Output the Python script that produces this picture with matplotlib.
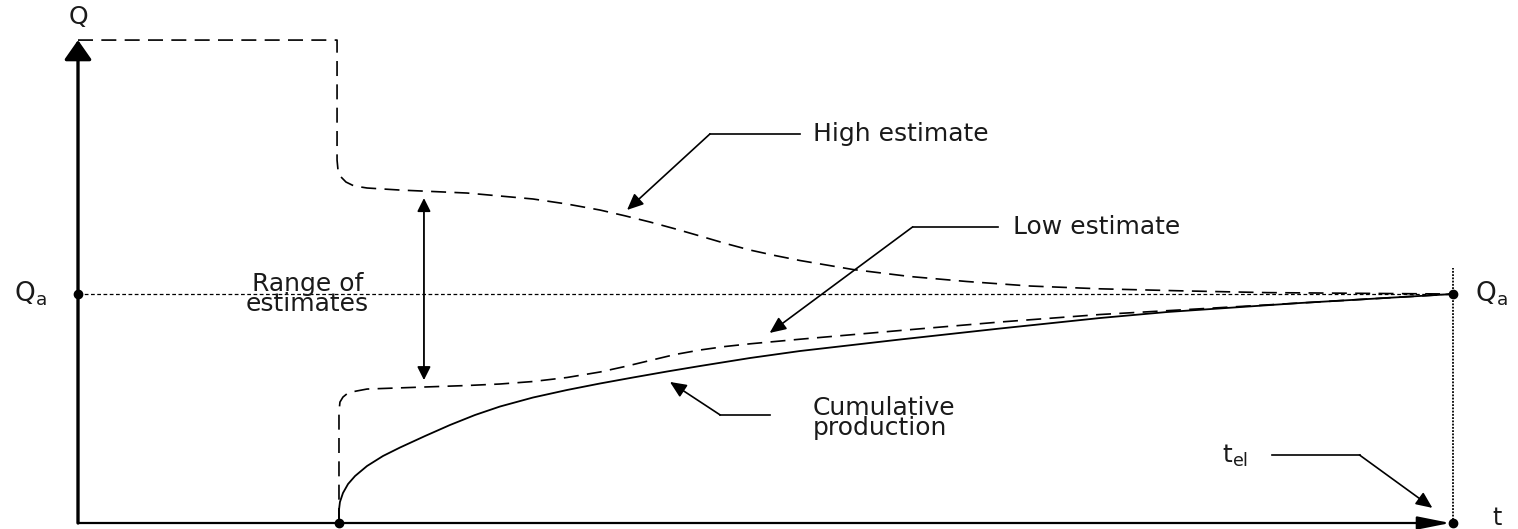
import matplotlib
matplotlib.use("Agg")
import matplotlib.pyplot as plt

# ---- data (t: time, t_el = 100 ; Q: cumulative volume, Q_a = 100) ----
t_el = 100.0
Q_a = 100.0
t_start = 18.98
Q_max = 210.9

high_t = [0.0, 18.84, 18.84, 18.91, 19.13, 19.49, 20.07, 21.02, 23.42, 28.29, 33.09,
          35.56, 37.96, 39.78, 41.6, 43.42, 45.24, 47.05, 48.87, 50.69, 52.51, 56.36,
          60.51, 64.65, 69.24, 74.33, 80.15, 86.47, 100.0]
high_q = [210.9, 210.9, 158.5, 154.1, 151.1, 148.9, 147.2, 146.3, 145.4, 144.1, 141.5,
          139.3, 136.68, 134.15, 131.44, 128.47, 125.33, 122.14, 119.21, 116.81, 114.63,
          110.70, 107.64, 105.46, 103.49, 102.27, 101.4, 100.61, 100.0]

low_t = [18.98, 18.98, 19.05, 19.27, 19.64, 20.22, 21.02, 25.24, 28.29, 30.69, 33.09,
         35.56, 37.96, 39.78, 41.6, 43.42, 45.24, 47.05, 48.87, 52.51, 59.78, 67.05,
         74.33, 79.42, 88.87, 100.0]
low_q = [0.0, 48.5, 52.8, 55.0, 56.8, 57.6, 58.5, 59.4, 60.04, 60.70, 61.79,
         63.54, 65.94, 68.34, 70.96, 73.58, 75.55, 77.07, 78.25, 80.26, 84.06, 87.77,
         91.05, 92.79, 96.07, 100.0]

cum_t = [18.98, 18.98, 19.05, 19.27, 19.64, 20.15, 21.02, 22.18, 23.42, 25.24, 27.05,
         28.87, 30.69, 33.09, 35.56, 37.96, 40.36, 42.84, 45.24, 48.87, 52.51, 59.78,
         67.05, 74.33, 79.2, 88.87, 100.0]
cum_q = [0.0, 5.68, 9.17, 13.1, 17.03, 20.52, 24.89, 29.26, 32.97, 37.99, 42.79,
         47.16, 50.87, 54.80, 58.08, 60.92, 63.54, 66.16, 68.56, 72.05, 75.11, 80.13,
         84.93, 89.52, 92.14, 96.07, 100.0]

range_t = 25.16
range_q = [141.9, 62.4]

# ---- figure ----
fig = plt.figure(figsize=(15.18, 5.29), dpi=100)
ax = fig.add_axes([0, 0, 1, 1])
ax.set_xlim(-5.673, 104.727)
ax.set_ylim(-2.62, 228.4)
ax.axis("off")

K = "black"
TXT = "#1a1a1a"
FS = 18

# axes
ax.annotate("", xy=(0, Q_max), xytext=(0, 0),
            arrowprops=dict(arrowstyle="-|>,head_length=0.6,head_width=0.42",
                            mutation_scale=20, lw=2.4, color=K, shrinkA=0, shrinkB=0))
ax.annotate("", xy=(t_el - 0.2, 0), xytext=(0, 0),
            arrowprops=dict(arrowstyle="-|>,head_length=1.0,head_width=0.2",
                            mutation_scale=20, lw=1.6, color=K, shrinkA=0, shrinkB=0))

# reference lines
ax.plot([0, t_el], [Q_a, Q_a], color=K, lw=0.9, linestyle=(0, (3, 2)))
ax.plot([t_el, t_el], [0, 111.4], color=K, lw=1.3, linestyle=(0, (1, 0.8)))

# curves
ax.plot(high_t, high_q, color=K, lw=1.2, linestyle=(0, (9, 5)), solid_joinstyle="round")
ax.plot(low_t, low_q, color=K, lw=1.2, linestyle=(0, (9, 5)), solid_joinstyle="round")
ax.plot(cum_t, cum_q, color=K, lw=1.3, linestyle="-", solid_joinstyle="round")

# dots
ax.plot([0, t_el, t_start, t_el], [Q_a, Q_a, 0, 0], "o", color=K, ms=6)

# range of estimates double arrow
ax.annotate("", xy=(range_t, range_q[0]), xytext=(range_t, range_q[1]),
            arrowprops=dict(arrowstyle="<|-|>,head_length=0.8,head_width=0.4",
                            mutation_scale=10, lw=1.3, color=K, shrinkA=0, shrinkB=0))

# labels
ax.text(0, 221.0, "Q", ha="center", va="center", fontsize=FS, color=TXT)
ax.text(-2.3, Q_a, r"$\mathregular{Q_a}$", ha="right", va="center", fontsize=FS + 1, color=TXT)
ax.text(101.6, Q_a, r"$\mathregular{Q_a}$", ha="left", va="center", fontsize=FS + 1, color=TXT)
ax.text(103.2, 2.2, "t", ha="center", va="center", fontsize=FS - 1, color=TXT)
ax.text(16.7, Q_a, "Range of\nestimates", ha="center", va="center", fontsize=FS,
        color=TXT, linespacing=0.8)


def leader(text, text_xy, corner_far, corner_near, tip, **kw):
    ax.plot([corner_near[0], corner_far[0]], [corner_near[1], corner_far[1]], color=K, lw=1.2)
    ax.annotate("", xy=tip, xytext=corner_far,
                arrowprops=dict(arrowstyle="-|>,head_length=0.9,head_width=0.4",
                                mutation_scale=11, lw=1.2, color=K, shrinkA=0, shrinkB=0))
    ax.text(text_xy[0], text_xy[1], text, ha="left", va="center", fontsize=FS,
            color=TXT, **kw)


leader("High estimate", (53.45, 169.9), (45.96, 169.9), (52.5, 169.9), (39.93, 136.7))
leader("Low estimate", (68.0, 129.3), (60.7, 129.3), (66.9, 129.3), (50.3, 83.0))
leader("Cumulative\nproduction", (53.45, 46.0), (46.7, 47.2), (50.3, 47.2), (43.05, 61.6),
       linespacing=0.8)
leader(r"$\mathregular{t_{el}}$", (83.2, 29.2), (93.2, 29.7), (86.8, 29.7), (98.5, 6.6))

fig.savefig("out.png", dpi=100)
